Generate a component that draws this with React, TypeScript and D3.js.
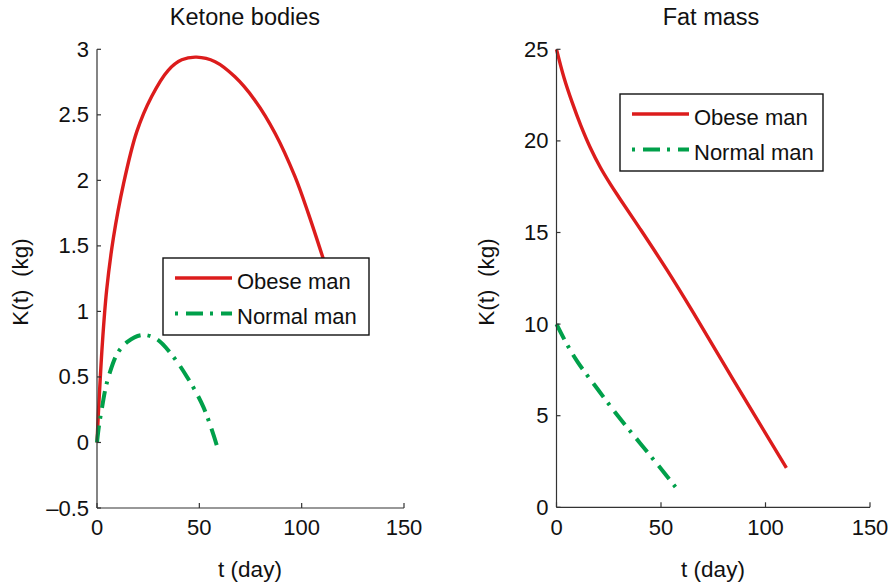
import React from "react";
import * as d3 from "d3";

// ---------- Data ----------
const ketoneObeseDays = [0, 0.6, 2.6, 4.7, 8, 12.9, 19.4, 26.7, 34.8, 41.4, 48.7, 57.7, 67.4, 77.2, 87, 96.7, 103.2, 111];
const ketoneObeseValues = [0, 0.2, 0.75, 1.16, 1.56, 1.97, 2.37, 2.64, 2.84, 2.92, 2.94, 2.905, 2.79, 2.61, 2.36, 2.03, 1.75, 1.38];

const ketoneNormalDays = [0, 1, 2.5, 4, 6, 10, 15, 22, 29, 36, 44, 52, 58.5];
const ketoneNormalValues = [0, 0.13, 0.27, 0.4, 0.52, 0.68, 0.77, 0.82, 0.79, 0.68, 0.5, 0.27, -0.02];

const fatObeseDays = [0, 3.6, 7.5, 11.6, 16.3, 21, 26, 30, 40, 53, 65.6, 84.6, 110];
const fatObeseValues = [25, 23.45, 22.1, 20.85, 19.6, 18.55, 17.6, 16.9, 15.2, 12.93, 10.6, 6.96, 2.15];

const fatNormalDays = [0, 5, 10, 20, 30, 40, 50, 58];
const fatNormalValues = [10, 8.9, 7.95, 6.4, 4.9, 3.5, 2.1, 0.95];

const xTicks = [0, 50, 100, 150];
const ketoneYTicks = [-0.5, 0, 0.5, 1, 1.5, 2, 2.5, 3];
const fatYTicks = [0, 5, 10, 15, 20, 25];

const seriesNames = ["Obese man", "Normal man"];
const titles = ["Ketone bodies", "Fat mass"];
const xLabel = "t (day)";
const yLabel = "K(t)  (kg)";

// ---------- Styles ----------
const RED = "#dc1c1c";
const GREEN = "#00a04a";
const AXIS = "#333";
const FONT = "'Liberation Sans', Arial, Helvetica, sans-serif";
const DASH = "17,7,3,8";

type Panel = {
  title: string;
  x0: number;
  x1: number;
  yTop: number;
  yBot: number;
  yDomain: [number, number];
  yTicks: number[];
  series: { days: number[]; values: number[] }[];
  legend: { x: number; y: number; w: number; h: number };
  titleX: number;
  xLabelX: number;
  yLabelX: number;
};

const panels: Panel[] = [
  {
    title: titles[0],
    x0: 97,
    x1: 404,
    yTop: 49.3,
    yBot: 508,
    yDomain: [-0.5, 3],
    yTicks: ketoneYTicks,
    series: [
      { days: ketoneObeseDays, values: ketoneObeseValues },
      { days: ketoneNormalDays, values: ketoneNormalValues },
    ],
    legend: { x: 163, y: 258, w: 206, h: 77 },
    titleX: 245,
    xLabelX: 250,
    yLabelX: 28,
  },
  {
    title: titles[1],
    x0: 556.5,
    x1: 870,
    yTop: 49.3,
    yBot: 507.3,
    yDomain: [0, 25],
    yTicks: fatYTicks,
    series: [
      { days: fatObeseDays, values: fatObeseValues },
      { days: fatNormalDays, values: fatNormalValues },
    ],
    legend: { x: 620, y: 94, w: 203, h: 77 },
    titleX: 711,
    xLabelX: 713,
    yLabelX: 494,
  },
];

const fmt = (v: number) => (v < 0 ? "\u2013" + String(-v) : String(v));

function PanelView({ p }: { p: Panel }) {
  const x = d3.scaleLinear().domain([0, 150]).range([p.x0, p.x1]);
  const y = d3.scaleLinear().domain(p.yDomain).range([p.yBot, p.yTop]);
  const line = d3
    .line<[number, number]>()
    .x((d) => x(d[0]))
    .y((d) => y(d[1]))
    .curve(d3.curveCatmullRom.alpha(0.5));
  const colors = [RED, GREEN];
  const widths = [3.4, 4];
  const dashes = [undefined, DASH];
  const lg = p.legend;
  return (
    <g fontFamily={FONT} fill="#111">
      <text x={p.titleX} y={25} textAnchor="middle" fontSize={23.5}>
        {p.title}
      </text>
      {/* series */}
      {p.series.map((s, i) => (
        <path
          key={i}
          d={line(s.days.map((d, j) => [d, s.values[j]] as [number, number])) || ""}
          fill="none"
          stroke={colors[i]}
          strokeWidth={widths[i]}
          strokeDasharray={dashes[i]}
          strokeLinejoin="round"
        />
      ))}
      {/* axes */}
      <line x1={p.x0} x2={p.x1} y1={p.yBot} y2={p.yBot} stroke={AXIS} strokeWidth={1.2} />
      <line x1={p.x0} x2={p.x0} y1={p.yTop} y2={p.yBot} stroke={AXIS} strokeWidth={1.2} />
      {xTicks.map((t) => (
        <g key={"x" + t}>
          <line x1={x(t)} x2={x(t)} y1={p.yBot} y2={p.yBot - 5} stroke={AXIS} strokeWidth={1.2} />
          <text x={x(t)} y={535} textAnchor="middle" fontSize={22}>
            {fmt(t)}
          </text>
        </g>
      ))}
      {p.yTicks.map((t) => (
        <g key={"y" + t}>
          <line x1={p.x0} x2={p.x0 + 4} y1={y(t)} y2={y(t)} stroke={AXIS} strokeWidth={1.2} />
          <text x={p.x0 - 8} y={y(t) + 7.5} textAnchor="end" fontSize={22}>
            {fmt(t)}
          </text>
        </g>
      ))}
      <text x={p.xLabelX} y={577} textAnchor="middle" fontSize={22.5}>
        {xLabel}
      </text>
      <text
        transform={`translate(${p.yLabelX},282) rotate(-90)`}
        textAnchor="middle"
        fontSize={22.5}
        style={{ whiteSpace: "pre" }}
      >
        {yLabel}
      </text>
      {/* legend */}
      <rect x={lg.x} y={lg.y} width={lg.w} height={lg.h} fill="#fff" stroke="#111" strokeWidth={1.4} />
      {seriesNames.map((name, i) => {
        const ly = lg.y + 20 + i * 35.5;
        return (
          <g key={name}>
            <line
              x1={lg.x + 12}
              x2={lg.x + 69}
              y1={ly}
              y2={ly}
              stroke={colors[i]}
              strokeWidth={widths[i]}
              strokeDasharray={dashes[i]}
              strokeDashoffset={i === 1 ? 24 : 0}
            />
            <text x={lg.x + 74} y={ly + 10.5} fontSize={22}>
              {name}
            </text>
          </g>
        );
      })}
    </g>
  );
}

export default function App() {
  return (
    <svg
      width={892}
      height={585}
      style={{ position: "absolute", left: 0, top: 0, background: "#fff" }}
    >
      <rect x={0} y={0} width={892} height={585} fill="#fff" />
      {panels.map((p) => (
        <PanelView key={p.title} p={p} />
      ))}
    </svg>
  );
}
